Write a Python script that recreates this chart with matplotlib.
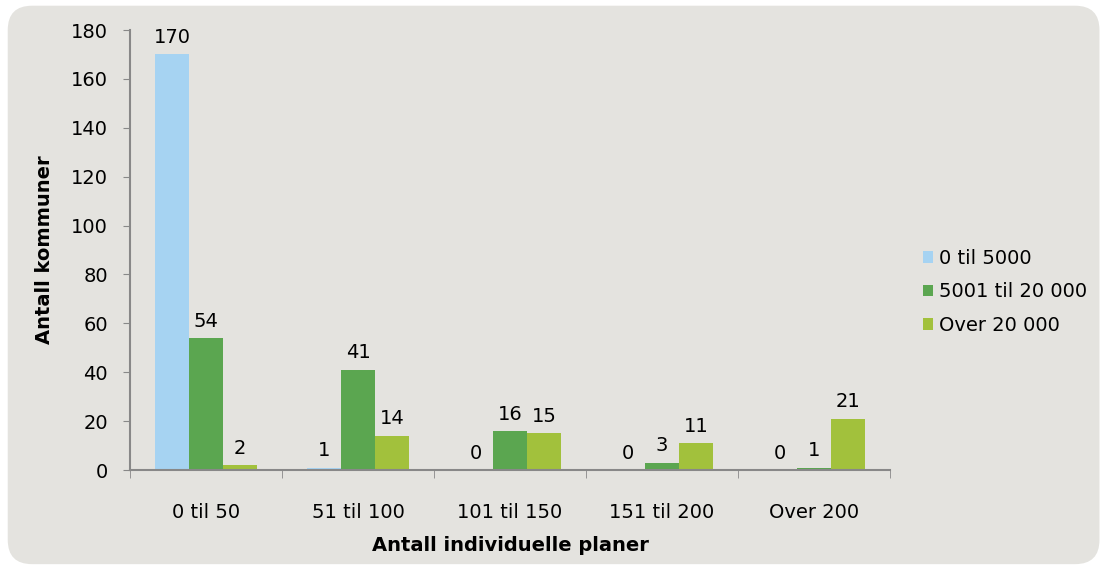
import numpy as np
import matplotlib.pyplot as plt
from matplotlib.patches import FancyBboxPatch

categories = ['0 til 50', '51 til 100', '101 til 150', '151 til 200', 'Over 200']
series_names = ['0 til 5000', '5001 til 20 000', 'Over 20 000']
small = [170, 1, 0, 0, 0]
medium = [54, 41, 16, 3, 1]
large = [2, 14, 15, 11, 21]
colors = ['#A6D3F2', '#5BA650', '#A2C13C']

plt.rcParams['font.family'] = ['DejaVu Sans']
FS = 14

fig = plt.figure(figsize=(11.05, 5.71), dpi=100)
fig.patch.set_facecolor('white')
# rounded grey panel behind the chart
bg = FancyBboxPatch((0.007, 0.012), 0.988, 0.978, boxstyle='round,pad=0,rounding_size=0.022',
                    transform=fig.transFigure, facecolor='#E4E3DF', edgecolor='none',
                    mutation_aspect=1105 / 571, zorder=-5)
fig.patches.append(bg)

ax = fig.add_axes([130 / 1105, 1 - 470 / 571, 760 / 1105, 440 / 571])
ax.set_facecolor('none')

x = np.arange(len(categories))
w = 0.224
for i, (vals, name) in enumerate(zip([small, medium, large], series_names)):
    pos = x + (i - 1) * w
    ax.bar(pos, vals, width=w, color=colors[i], label=name, zorder=2)
    for p, v in zip(pos, vals):
        ax.text(p, v + 3, str(v), ha='center', va='bottom', fontsize=FS)

ax.set_xlim(-0.5, len(categories) - 0.5)
ax.set_ylim(0, 180)
ax.set_yticks(range(0, 181, 20))
ax.set_xticks(x)
ax.set_xticklabels(categories, fontsize=FS)
ax.tick_params(axis='x', length=0, pad=24)
ax.set_xticks(np.arange(-0.5, len(categories), 1), minor=True)
ax.tick_params(axis='x', which='minor', length=6, color='#888888', direction='out')
ax.tick_params(axis='y', labelsize=FS, length=5, color='#888888', direction='out', pad=11)

for s in ['top', 'right']:
    ax.spines[s].set_visible(False)
for s in ['left', 'bottom']:
    ax.spines[s].set_color('#888888')
    ax.spines[s].set_linewidth(1.5)

ax.set_xlabel('Antall individuelle planer', fontsize=FS, fontweight='bold', labelpad=10)
ax.set_ylabel('Antall kommuner', fontsize=FS, fontweight='bold', labelpad=12)

ax.legend(loc='center left', bbox_to_anchor=(1.02, 0.405), frameon=False, fontsize=FS,
          handlelength=0.55, handleheight=0.55, handletextpad=0.3, labelspacing=0.75)

fig.savefig('out.png', dpi=100)
